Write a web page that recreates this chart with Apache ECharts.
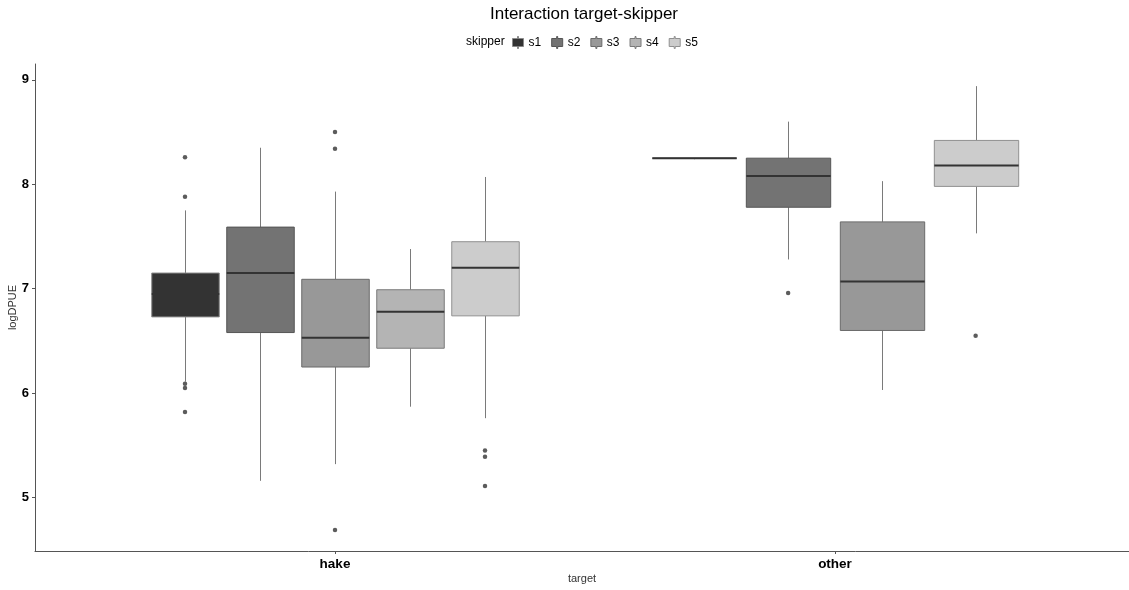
<!DOCTYPE html>
<html><head><meta charset="utf-8">
<script src="https://cdn.jsdelivr.net/npm/echarts@6/dist/echarts.min.js"></script>
<style>html,body{margin:0;padding:0;background:#fff}#c{width:1129px;height:590px}</style>
</head><body><div id="c"></div>
<script>
const categories = ['hake', 'other'];
const skippers = ['s1', 's2', 's3', 's4', 's5'];
const yTicks = [5, 6, 7, 8, 9];
// [lower whisker, Q1, median, Q3, upper whisker]
const hakeStats = [
  [6.11, 6.73, 6.95, 7.15, 7.75],
  [5.16, 6.58, 7.15, 7.59, 8.35],
  [5.32, 6.25, 6.53, 7.09, 7.93],
  [5.87, 6.43, 6.78, 6.99, 7.38],
  [5.76, 6.74, 7.20, 7.45, 8.07]
];
const otherStats = [
  [8.24, 8.25, 8.25, 8.25, 8.25],
  [7.28, 7.78, 8.08, 8.25, 8.60],
  [6.03, 6.60, 7.07, 7.64, 8.03],
  null,
  [7.53, 7.98, 8.18, 8.42, 8.94]
];
const hakeOutliers = [[8.26, 7.88, 6.09, 6.05, 5.82], [], [8.50, 8.34, 4.69], [], [5.45, 5.39, 5.11]];
const otherOutliers = [[], [6.96], [], [], [6.55]];

const fills = ['#333333', '#737373', '#989898', '#b4b4b4', '#cccccc'];
const borders = ['#8a8a8a', '#555555', '#6a6a6a', '#7a7a7a', '#909090'];
const FONT = "'Liberation Sans', Arial, sans-serif";

const statsByCat = [hakeStats, otherStats];
const outByCat = [hakeOutliers, otherOutliers];
const DODGE = 0.75, BOXW = 0.9;
const boxData = skippers.map(() => []);
const outData = [];
statsByCat.forEach((stats, ci) => {
  const present = [];
  stats.forEach((s, i) => { if (s) present.push(i); });
  const n = present.length, slot = DODGE / n;
  present.forEach((si, k) => {
    const x = ci + 1 + (k - (n - 1) / 2) * slot;
    boxData[si].push([x, slot * BOXW].concat(stats[si]));
    outByCat[ci][si].forEach(v => outData.push([x, v]));
  });
});

function renderBox(si) {
  return function (params, api) {
    const x = api.value(0), w = api.value(1);
    const lo = api.value(2), q1 = api.value(3), md = api.value(4), q3 = api.value(5), hi = api.value(6);
    const half = api.size([w, 0])[0] / 2;
    const cx = Math.round(api.coord([x, md])[0]) + 0.5;
    const yLo = api.coord([x, lo])[1], yQ1 = api.coord([x, q1])[1], yMd = api.coord([x, md])[1];
    const yQ3 = api.coord([x, q3])[1], yHi = api.coord([x, hi])[1];
    const ws = { stroke: '#7a7a7a', lineWidth: 1 };
    return {
      type: 'group',
      children: [
        { type: 'line', shape: { x1: cx, y1: yHi, x2: cx, y2: yQ3 }, style: ws },
        { type: 'line', shape: { x1: cx, y1: yQ1, x2: cx, y2: yLo }, style: ws },
        { type: 'rect', shape: { x: cx - half, y: yQ3, width: 2 * half, height: yQ1 - yQ3 },
          style: { fill: fills[si], stroke: borders[si], lineWidth: 1 } },
        { type: 'line', shape: { x1: cx - half, y1: yMd, x2: cx + half, y2: yMd },
          style: { stroke: '#333333', lineWidth: 2 } }
      ]
    };
  };
}

const series = skippers.map((name, si) => ({
  name: name,
  type: 'custom',
  renderItem: renderBox(si),
  encode: { x: 0, y: [2, 3, 4, 5, 6] },
  itemStyle: { color: fills[si] },
  data: boxData[si],
  silent: true
}));
series.push({
  name: 'outliers',
  type: 'scatter',
  data: outData,
  symbolSize: 4.5,
  itemStyle: { color: '#333333' },
  silent: true
});

const chart = echarts.init(document.getElementById('c'), null, { renderer: 'canvas' });
chart.setOption({
  animation: false,
  backgroundColor: '#ffffff',
  grid: { left: 35, right: 0, top: 64, bottom: 39, containLabel: false, outerBoundsMode: 'none' },
  graphic: [
    { type: 'text', x: 584, y: 6, style: { text: 'Interaction target-skipper', font: '17px ' + FONT,
      fill: '#000', textAlign: 'center', textVerticalAlign: 'top' } },
    { type: 'text', x: 466, y: 42, style: { text: 'skipper', font: '12px ' + FONT,
      fill: '#000', textAlign: 'left', textVerticalAlign: 'middle' } }
  ],
  legend: {
    left: 512, top: 36, padding: 0,
    itemWidth: 11, itemHeight: 12, itemGap: 10,
    icon: 'path://M5,0H6V2H11V10H6V12H5V10H0V2H5Z',
    textStyle: { fontFamily: FONT, fontSize: 12, color: '#000' },
    selectedMode: false,
    data: skippers.map((s, i) => ({ name: s, itemStyle: { color: fills[i], borderColor: borders[i], borderWidth: 1 } }))
  },
  xAxis: {
    type: 'value', min: 0.4, max: 2.588,
    axisLine: { show: true, lineStyle: { color: '#555', width: 1 } },
    axisTick: { show: true, customValues: [1, 2], length: 3, lineStyle: { color: '#555' } },
    axisLabel: { customValues: [1, 2], formatter: v => categories[Math.round(v) - 1] || '',
      fontFamily: FONT, fontSize: 13.5, fontWeight: 'bold', color: '#000', margin: 6 },
    splitLine: { show: false },
    name: 'target', nameLocation: 'middle', nameGap: 22, nameMoveOverlap: false,
    nameTextStyle: { fontFamily: FONT, fontSize: 11, color: '#333' }
  },
  yAxis: {
    type: 'value', min: 4.488, max: 9.152,
    axisLine: { show: true, lineStyle: { color: '#555', width: 1 } },
    axisTick: { show: true, customValues: yTicks, length: 3, lineStyle: { color: '#555' } },
    axisLabel: { customValues: yTicks, fontFamily: FONT, fontSize: 13, fontWeight: 'bold', color: '#000', margin: 6 },
    splitLine: { show: false },
    name: 'logDPUE', nameLocation: 'middle', nameGap: 17, nameRotate: 90, nameMoveOverlap: false,
    nameTextStyle: { fontFamily: FONT, fontSize: 11, color: '#333' }
  },
  series: series
});
</script></body></html>
